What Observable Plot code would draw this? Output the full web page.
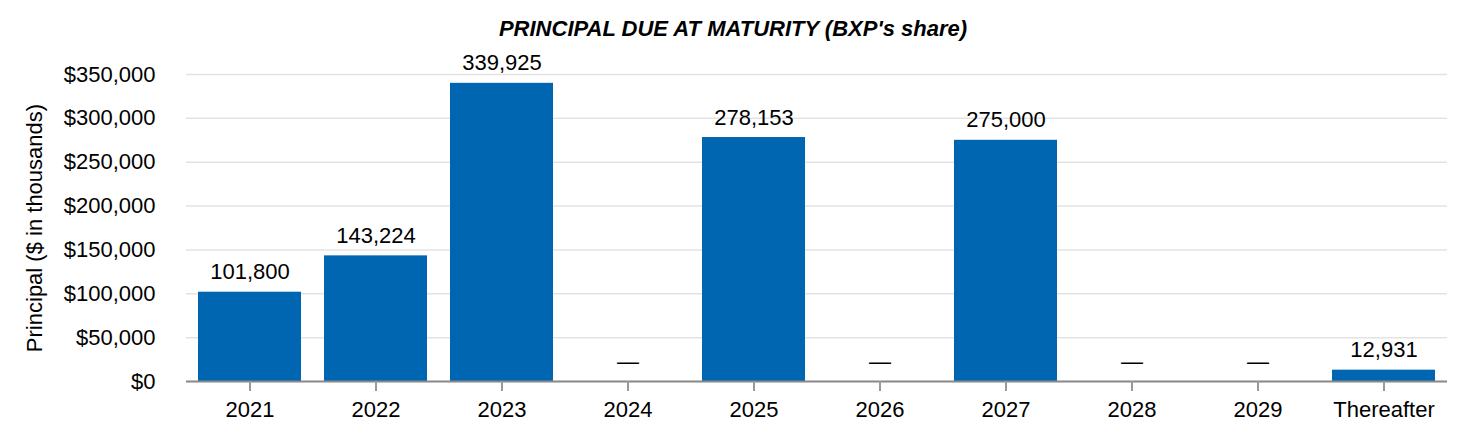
<!DOCTYPE html>
<html>
<head>
<meta charset="utf-8">
<script src="https://cdn.jsdelivr.net/npm/d3@7"></script>
<script src="https://cdn.jsdelivr.net/npm/@observablehq/plot@0.6"></script>
<style>
  html, body { margin: 0; padding: 0; background: #fff; }
  #title { height: 50px; box-sizing: border-box; padding-top: 16px; text-align: center;
    font-family: "Liberation Sans", Arial, sans-serif; font-weight: bold; font-style: italic;
    font-size: 22px; line-height: 26px; color: #000; overflow: hidden; }
</style>
</head>
<body>
<div id="title">PRINCIPAL DUE AT MATURITY (BXP's share)</div>
<div id="chart"></div>
<script>
const categories = ["2021", "2022", "2023", "2024", "2025", "2026", "2027", "2028", "2029", "Thereafter"];
const principal = [101800, 143224, 339925, 0, 278153, 0, 275000, 0, 0, 12931];
const yTicks = [0, 50000, 100000, 150000, 200000, 250000, 300000, 350000];
const yLabel = "Principal ($ in thousands)";

const data = categories.map((c, i) => ({cat: c, value: principal[i]}));
const fmt = d3.format(",");

const chart = Plot.plot({
  width: 1466,
  height: 390,
  marginTop: 24,
  marginBottom: 59,
  marginLeft: 186,
  marginRight: 19,
  style: {fontFamily: "'Liberation Sans', Arial, sans-serif", fontSize: "22px", color: "#000", background: "#fff"},
  x: {domain: categories, paddingInner: 0.18, paddingOuter: 0.09},
  y: {domain: [0, 350000]},
  marks: [
    Plot.gridY(yTicks, {stroke: "#e3e3e3", strokeOpacity: 1, strokeWidth: 1.5}),
    Plot.barY(data, {x: "cat", y: "value", fill: "#0066b2"}),
    Plot.ruleY([0], {stroke: "#8a8a8a", strokeWidth: 2}),
    Plot.axisX({tickSize: 10, tickPadding: 10, stroke: "#999", strokeWidth: 2, fill: "#000", label: null, fontSize: 22}),
    Plot.axisY(yTicks, {tickSize: 0, tickPadding: 31, tickFormat: d => "$" + fmt(d), fill: "#000",
      label: yLabel, labelAnchor: "center", labelArrow: "none", labelOffset: 160, fontSize: 22}),
    Plot.text(data, {x: "cat", y: "value", text: d => d.value === 0 ? "—" : fmt(d.value),
      fill: "#000", fontSize: 22, dy: -20})
  ]
});
document.getElementById("chart").appendChild(chart);
</script>
</body>
</html>
